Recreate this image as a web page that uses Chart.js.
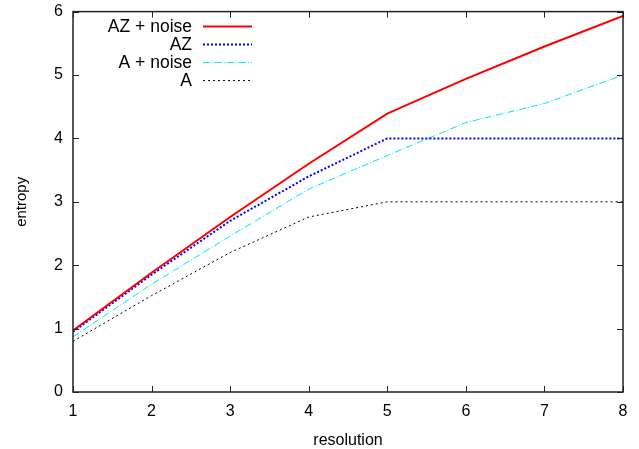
<!DOCTYPE html>
<html>
<head>
<meta charset="utf-8">
<script src="https://cdn.jsdelivr.net/npm/chart.js@4"></script>
<style>
  html, body { margin: 0; padding: 0; background: #fff; }
  #wrap { width: 639px; height: 449px; }
</style>
</head>
<body>
<div id="wrap"><canvas id="myChart" width="639" height="449"></canvas></div>
<script>
const resolution = [1, 2, 3, 4, 5, 6, 7, 8];
const azNoise = [0.97, 1.88, 2.76, 3.6, 4.39, 4.94, 5.45, 5.93];
const az = [0.95, 1.85, 2.7, 3.4, 4.0, 4.0, 4.0, 4.0];
const aNoise = [0.87, 1.7, 2.46, 3.2, 3.73, 4.25, 4.55, 5.0];
const a = [0.8, 1.52, 2.2, 2.76, 3.0, 3.0, 3.0, 3.0];
const xTicks = [1, 2, 3, 4, 5, 6, 7, 8];
const yTicks = [0, 1, 2, 3, 4, 5, 6];

const FONT = "'Liberation Sans', Arial, sans-serif";

function points(ys) {
  return resolution.map((x, i) => ({ x: x, y: ys[i] }));
}

// gnuplot style frame with inward ticks on all four sides
const framePlugin = {
  id: "frame",
  afterDraw(chart) {
    const ctx = chart.ctx;
    const area = chart.chartArea;
    const xs = chart.scales.x;
    const ys = chart.scales.y;
    ctx.save();
    ctx.strokeStyle = "#222";
    ctx.lineWidth = 1.5;
    ctx.strokeRect(area.left, area.top, area.right - area.left, area.bottom - area.top);
    ctx.lineWidth = 1;
    ctx.beginPath();
    xTicks.forEach((v) => {
      const px = Math.round(xs.getPixelForValue(v)) + 0.5;
      ctx.moveTo(px, area.bottom);
      ctx.lineTo(px, area.bottom - 6);
      ctx.moveTo(px, area.top);
      ctx.lineTo(px, area.top + 6);
    });
    yTicks.forEach((v) => {
      const py = Math.round(ys.getPixelForValue(v)) + 0.5;
      ctx.moveTo(area.left, py);
      ctx.lineTo(area.left + 6, py);
      ctx.moveTo(area.right, py);
      ctx.lineTo(area.right - 6, py);
    });
    ctx.stroke();

    // key, top left inside the plot
    ctx.font = "17.5px " + FONT;
    ctx.textAlign = "right";
    ctx.textBaseline = "middle";
    chart.data.datasets.forEach((ds, i) => {
      const y = area.top + 15 + i * 18;
      ctx.fillStyle = "#000";
      ctx.fillText(ds.label, area.left + 119, y + 1);
      ctx.strokeStyle = ds.borderColor;
      ctx.lineWidth = ds.borderWidth;
      ctx.setLineDash(ds.borderDash || []);
      ctx.beginPath();
      ctx.moveTo(area.left + 130, y);
      ctx.lineTo(area.left + 179, y);
      ctx.stroke();
    });
    ctx.restore();
  },
};

const data = {
  datasets: [
    {
      label: "AZ + noise",
      data: points(azNoise),
      borderColor: "#ff0000",
      borderWidth: 2,
    },
    {
      label: "AZ",
      data: points(az),
      borderColor: "#0000ff",
      borderWidth: 2,
      borderDash: [2, 2],
    },
    {
      label: "A + noise",
      data: points(aNoise),
      borderColor: "#00e5ee",
      borderWidth: 1,
      borderDash: [7, 2, 1, 2],
    },
    {
      label: "A",
      data: points(a),
      borderColor: "#000000",
      borderWidth: 1,
      borderDash: [2, 3],
    },
  ],
};

const config = {
  type: "line",
  data: data,
  options: {
    responsive: false,
    animation: false,
    layout: { padding: { top: 0, right: 16, left: 0, bottom: 0 } },
    elements: {
      point: { radius: 0 },
      line: { tension: 0, fill: false },
    },
    scales: {
      x: {
        type: "linear",
        min: 1,
        max: 8,
        afterFit: (s) => { s.height = 57; },
        afterBuildTicks: (s) => { s.ticks = xTicks.map((v) => ({ value: v })); },
        grid: { display: false },
        border: { display: false },
        ticks: { color: "#000", font: { family: FONT, size: 16 }, padding: 2 },
        title: { display: true, text: "resolution", color: "#000", font: { family: FONT, size: 16 }, padding: { top: 6, bottom: -1 } },
      },
      y: {
        min: 0,
        max: 6,
        afterFit: (s) => { s.width = 73; },
        afterBuildTicks: (s) => { s.ticks = yTicks.map((v) => ({ value: v })); },
        grid: { display: false },
        border: { display: false },
        ticks: { color: "#000", font: { family: FONT, size: 16 }, padding: 2 },
        title: { display: true, text: "entropy", color: "#000", font: { family: FONT, size: 15 }, padding: { top: 13, bottom: 4 } },
      },
    },
    plugins: {
      legend: { display: false },
      tooltip: { enabled: false },
    },
  },
  plugins: [framePlugin],
};

const myChart = new Chart(document.getElementById("myChart"), config);
</script>
</body>
</html>
